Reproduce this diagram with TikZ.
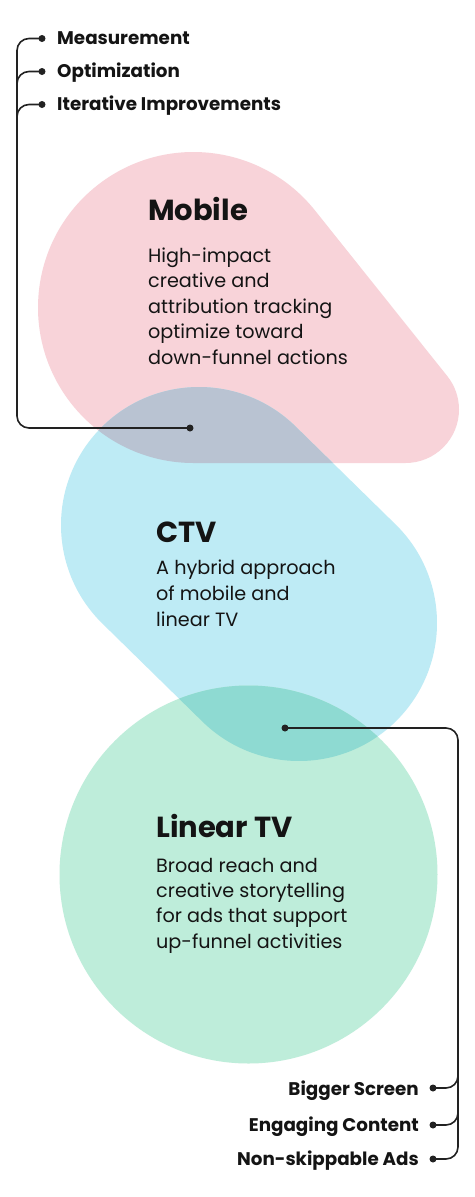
\documentclass[tikz,border=0pt]{standalone}
\usepackage{fontspec}
\setmainfont{Poppins}
\usetikzlibrary{calc}
\definecolor{mobfill}{HTML}{F8D3D9}
\definecolor{ctvfill}{HTML}{BEEBF5}
\definecolor{ltvfill}{HTML}{BEEDDA}
\definecolor{mobctv}{RGB}{185,195,210}
\definecolor{ctvltv}{RGB}{142,218,210}
\definecolor{ink}{HTML}{141414}
\definecolor{wire}{HTML}{222222}
\begin{document}
\begin{tikzpicture}[x=1pt,y=1pt,
  title/.style={anchor=base west, inner sep=0pt, font=\fontsize{29}{30}\selectfont\bfseries, text=ink},
  body/.style={anchor=base west, inner sep=0pt, font=\fontsize{19.2}{20}\selectfont, text=ink},
  itemL/.style={anchor=base west, inner sep=0pt, font=\fontsize{18.3}{19}\selectfont\bfseries, text=ink},
  itemR/.style={anchor=base east, inner sep=0pt, font=\fontsize{18.3}{19}\selectfont\bfseries, text=ink},
  dotnode/.style={circle, fill=wire, inner sep=0pt, minimum size=7pt},
  conn/.style={draw=wire, line width=1.6pt, rounded corners=12pt}]
\useasboundingbox (0,0) rectangle (474,-1197);
\fill[white] (0,0) rectangle (474,-1197);

\def\mobshape{($(193.5,-307.5)+(38.62:155.5)$) arc[start angle=38.62, end angle=270, radius=155.5] -- (405.5,-463) arc[start angle=270, end angle=398.62, radius=53.5] -- cycle}
\def\ctvshape{($(199,-525)+(45.6:138)$) arc[start angle=45.6, end angle=225.6, radius=138] -- ($(299,-623)+(225.6:138)$) arc[start angle=225.6, end angle=405.6, radius=138] -- cycle}
\def\ltvshape{(248.5,-874.5) circle[radius=189]}

\fill[mobfill] \mobshape;
\fill[ctvfill] \ctvshape;
\fill[ltvfill] \ltvshape;
\begin{scope}
  \clip \mobshape;
  \fill[mobctv] \ctvshape;
\end{scope}
\begin{scope}
  \clip \ctvshape;
  \fill[ctvltv] \ltvshape;
\end{scope}

% titles and bodies
\node[title] (tMob) at (148,-220) {Mobile};
\foreach \t [count=\i] in {High-impact, creative and, attribution tracking, optimize toward, down-funnel actions}
  \node[body] (mob\i) at (148,{-262-25.5*(\i-1)}) {\t};
\node[title] (tCTV) at (156,-542) {CTV};
\foreach \t [count=\i] in {A hybrid approach, of mobile and, linear TV}
  \node[body] (ctv\i) at (156,{-574-26*(\i-1)}) {\t};
\node[title] (tLTV) at (156,-837) {Linear TV};
\foreach \t [count=\i] in {Broad reach and, creative storytelling, for ads that support, up-funnel activities}
  \node[body] (ltv\i) at (156,{-872-25.4*(\i-1)}) {\t};

% top-left items
\node[itemL] (iMeas) at (57,-44) {Measurement};
\node[itemL] (iOpt) at (57,-77) {Optimization};
\node[itemL] (iIter) at (57,-110) {Iterative Improvements};
\node[dotnode] (dMeas) at (42,-38.5) {};
\node[dotnode] (dOpt) at (42,-71.5) {};
\node[dotnode] (dIter) at (42,-104.5) {};
\node[dotnode] (dMob) at (190,-428) {};
\coordinate (tlc) at (17,-428);
\coordinate (jO) at (17,-95);
\coordinate (jI) at (17,-128);
\draw[conn] (dMeas.center) -| (tlc) -- (dMob.center);
\draw[conn] (dOpt.center) -| (jO);
\draw[conn] (dIter.center) -| (jI);

% bottom-right items
\node[itemR] (iBig) at (419,-1095) {Bigger Screen};
\node[itemR] (iEng) at (419,-1131) {Engaging Content};
\node[itemR] (iNon) at (419,-1165) {Non-skippable Ads};
\node[dotnode] (dBig) at (433,-1088) {};
\node[dotnode] (dEng) at (433,-1125) {};
\node[dotnode] (dNon) at (433,-1159) {};
\node[dotnode] (dCTV) at (285,-728) {};
\coordinate (brc) at (458,-1159);
\coordinate (jB) at (458,-1065);
\coordinate (jE) at (458,-1102);
\draw[conn] (dCTV.center) -| (brc) -- (dNon.center);
\draw[conn] (dBig.center) -| (jB);
\draw[conn] (dEng.center) -| (jE);
\end{tikzpicture}
\end{document}
